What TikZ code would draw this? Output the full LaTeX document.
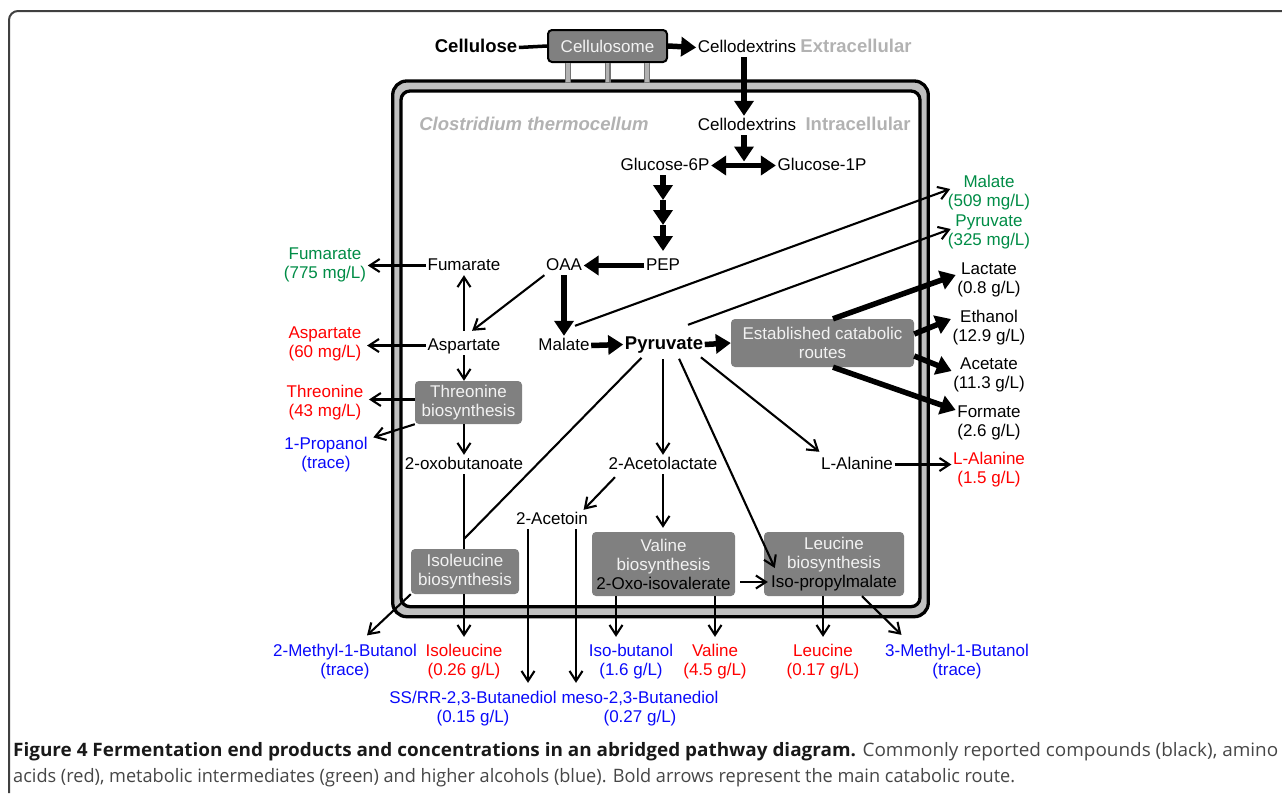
\documentclass[tikz,border=0pt]{standalone}
\usepackage{fontspec}
\setmainfont{Liberation Sans}
\newfontfamily\capfont{Open Sans}
\usetikzlibrary{arrows.meta}
\definecolor{cgreen}{RGB}{0,140,70}
\definecolor{cred}{RGB}{255,0,0}
\definecolor{cblue}{RGB}{10,10,250}
\definecolor{lblgray}{RGB}{178,178,178}
\definecolor{boxgray}{RGB}{128,128,128}
\definecolor{wallgray}{RGB}{192,192,192}
\definecolor{boxtext}{RGB}{242,242,242}
\definecolor{capgray}{RGB}{70,70,70}
\begin{document}
\begin{tikzpicture}[x=1pt,y=-1pt,
  every node/.style={font=\fontsize{17}{19}\selectfont},
  txt/.style={inner sep=1.5pt, text height=12.5pt, text depth=3.5pt},
  lab/.style={inner sep=1.5pt, align=center},
  bt/.style={txt, font=\fontsize{18.5}{21}\selectfont\bfseries},
  gl/.style={bt, text=lblgray},
  gbox/.style={fill=boxgray, rounded corners=4pt, text=boxtext, align=center, inner sep=0pt},
  thn/.style={line width=2.1pt, -{Straight Barb[length=10pt,width=13pt,line width=2.1pt]}},
  thk/.style={line width=5.5pt, -{Triangle[length=15pt,width=19pt]}},
  thkd/.style={line width=5.5pt, {Triangle[length=15pt,width=19pt]}-{Triangle[length=15pt,width=19pt]}},
  legline/.style={line width=6pt, black!55},
  legfill/.style={line width=3.6pt, black!30},
]
\useasboundingbox (0,0) rectangle (1282,793);
% outer frame
\draw[line width=2pt, black!75, rounded corners=9pt] (9,793) -- (9,11) -- (1282,11);
% cell wall
\draw[line width=3.3pt, fill=wallgray, rounded corners=14pt] (392.7,81) rectangle (928.3,616.7);
\draw[line width=3.3pt, fill=white, rounded corners=9pt] (401,91) rectangle (920,606.7);

% ---- nodes ----
\node[bt] (cellulose) at (476,47.5) {Cellulose};
\node[gbox, draw=black, line width=2pt, minimum width=119pt, minimum height=32pt] (cellulosome) at (607.5,46) {Cellulosome};
\node[txt] (cdx1) at (747,47.5) {Cellodextrins};
\node[gl] (extra) at (856,47.5) {Extracellular};
\node[gl, font=\fontsize{18.5}{21}\selectfont\bfseries\itshape] (clos) at (534,125.5) {Clostridium thermocellum};
\node[txt] (cdx2) at (747,125.5) {Cellodextrins};
\node[gl] (intra) at (858,125.5) {Intracellular};
\node[txt] (g6p) at (665,165.5) {Glucose-6P};
\node[txt] (g1p) at (822,165.5) {Glucose-1P};
\node[txt] (pep) at (663,265.5) {PEP};
\node[txt] (oaa) at (564,265.5) {OAA};
\node[txt] (fum) at (464,265.5) {Fumarate};
\node[txt] (asp) at (464,345.5) {Aspartate};
\node[txt] (mal) at (564,345.5) {Malate};
\node[bt] (pyr) at (664,344.5) {Pyruvate};
\node[gbox, minimum width=183pt, minimum height=48pt] (ecr) at (822.5,343) {Established catabolic\\routes};
\node[gbox, minimum width=107pt, minimum height=43pt] (thr) at (468.5,402.5) {Threonine\\biosynthesis};
\node[txt] (oxob) at (464,464.5) {2-oxobutanoate};
\node[txt] (acl) at (663,464.5) {2-Acetolactate};
\node[txt] (lala) at (857,464.5) {L-Alanine};
\node[txt] (acetoin) at (552,519.5) {2-Acetoin};
\node[gbox, minimum width=108pt, minimum height=45pt] (ile) at (465,571.5) {Isoleucine\\biosynthesis};
\node[gbox, minimum width=143pt, minimum height=64pt] (val) at (663.5,564) {Valine\\biosynthesis\\\textcolor{black}{2-Oxo-isovalerate}};
\node[gbox, minimum width=140pt, minimum height=64pt] (leu) at (834,564) {Leucine\\biosynthesis\\\textcolor{black}{Iso-propylmalate}};

% left labels
\node[lab, text=cgreen] (fumout) at (325,265) {Fumarate\\(775 mg/L)};
\node[lab, text=cred] (aspout) at (325,344) {Aspartate\\(60 mg/L)};
\node[lab, text=cred] (throut) at (325,403) {Threonine\\(43 mg/L)};
\node[lab, text=cblue] (prop) at (326,454.5) {1-Propanol\\(trace)};
% right labels
\node[lab, text=cgreen] (malout) at (989,192.5) {Malate\\(509 mg/L)};
\node[lab, text=cgreen] (pyrout) at (989,232) {Pyruvate\\(325 mg/L)};
\node[lab] (lac) at (989,280) {Lactate\\(0.8 g/L)};
\node[lab] (eth) at (989,328) {Ethanol\\(12.9 g/L)};
\node[lab] (ace) at (989,375) {Acetate\\(11.3 g/L)};
\node[lab] (form) at (989,423) {Formate\\(2.6 g/L)};
\node[lab, text=cred] (lalaout) at (989,470) {L-Alanine\\(1.5 g/L)};
% bottom labels
\node[lab, text=cblue] (mb2) at (345,661.5) {2-Methyl-1-Butanol\\(trace)};
\node[lab, text=cred] (ileout) at (464,661.5) {Isoleucine\\(0.26 g/L)};
\node[lab, text=cblue] (ibut) at (631,661.5) {Iso-butanol\\(1.6 g/L)};
\node[lab, text=cred] (valout) at (715,661.5) {Valine\\(4.5 g/L)};
\node[lab, text=cred] (leuout) at (823,661.5) {Leucine\\(0.17 g/L)};
\node[lab, text=cblue] (mb3) at (957,661.5) {3-Methyl-1-Butanol\\(trace)};
\node[lab, text=cblue] (ssrr) at (473,709) {SS/RR-2,3-Butanediol\\(0.15 g/L)};
\node[lab, text=cblue] (meso) at (640,709) {meso-2,3-Butanediol\\(0.27 g/L)};

% helper coordinates
\coordinate (jn) at (744,161.5);
\coordinate (h1) at (663,200);
\coordinate (h2) at (663,225);
\coordinate (h3) at (663,251);
\coordinate (ilej) at (464,539);
\coordinate (bd1) at ([xshift=-24pt]acetoin.south);
\coordinate (bd2) at ([xshift=24pt]acetoin.south);
\coordinate (v1) at ([xshift=-47.5pt]val.south);

% ---- cellulosome legs ----
\foreach \dx in {-39.5,0,39.5} {
  \draw[legline] ([xshift=\dx pt]cellulosome.south) -- ++(0,20);
  \draw[legfill] ([xshift=\dx pt]cellulosome.south) -- ++(0,19);
}

% ---- thick (main route) ----
\draw[line width=3.5pt] (cellulose.east) -- (cellulosome.west);
\draw[thk] (cellulosome.east) -- (cdx1.west);
\draw[thk] ([xshift=-3pt]cdx1.south) -- ([xshift=-3pt]cdx2.north);
\draw[thk] ([xshift=-3pt]cdx2.south) -- (jn);
\draw[thkd] (g6p.east) -- (g1p.west);
\draw[thk] (g6p.south -| h1) -- (h1);
\draw[thk] (h1) -- (h2);
\draw[thk] (h2) -- (h3);
\draw[thk] (pep.west) -- (oaa.east);
\draw[thk] (oaa.south) -- (mal.north);
\draw[thk] (mal.east) -- (pyr.west);
\draw[thk] (pyr.east) -- (ecr.west);
\draw[thk] ([xshift=10.5pt]ecr.north) -- ([yshift=5pt]lac.west);
\draw[thk] ([yshift=9pt]ecr.east) -- ([yshift=9pt]eth.west);
\draw[thk] ([yshift=-13pt]ecr.east) -- ([yshift=4pt]ace.west);
\draw[thk] ([xshift=10.5pt]ecr.south) -- ([yshift=13pt]form.west);

% ---- thin ----
\draw[thn] ([xshift=11pt,yshift=10pt]mal.north) -- ([xshift=4pt,yshift=3.5pt]malout.west);
\draw[thn] ([xshift=24pt,yshift=10pt]pyr.north) -- ([xshift=4.5pt,yshift=3pt]pyrout.west);
\draw[thn] (fum.west) -- (fum.west -| fumout.east);
\draw[thn, shorten <=5pt] (asp.north) -- (fum.south);
\draw[thn] (oaa.south west) -- ([xshift=-30pt,yshift=5pt]asp.north east);
\draw[thn, shorten >=4pt] (asp.west) -- (asp.west -| aspout.east);
\draw[thn] (asp.south) -- (asp.south |- thr.north);
\draw[thn, shorten >=4pt] ([yshift=3pt]thr.west) -- ([yshift=3pt]thr.west -| throut.east);
\draw[thn] (thr.south west) -- ([xshift=4pt,yshift=-2pt]prop.north east);
\draw[thn] (thr.south -| oxob) -- (oxob.north);
\draw[line width=2.1pt] (oxob.south) -- (oxob.south |- ile.north);
\draw[line width=2.1pt, shorten <=5pt] ([xshift=-19pt]pyr.south) -- (ilej);
\draw[thn] (ile.south west) -- ([xshift=22pt,yshift=7pt]mb2.north);
\draw[thn, shorten >=5.5pt] (ileout.north |- ile.south) -- (ileout.north);
\draw[thn, shorten <=5pt] (pyr.south -| acl) -- (acl.north);
\draw[thn] ([xshift=8pt,yshift=-3pt]acl.south west) -- ([xshift=-6pt]acetoin.north east);
\draw[thn, shorten >=4pt] (acl.south) -- (acl.south |- val.north);
\draw[thn, shorten >=7pt] (bd1) -- (bd1 |- ssrr.north);
\draw[thn, shorten >=7pt] (bd2) -- (bd2 |- meso.north);
\draw[thn, shorten >=5.5pt] (v1) -- (v1 |- ibut.north);
\draw[thn, shorten >=5.5pt] (valout.north |- val.south) -- (valout.north);
\draw[thn, shorten <=5pt] ([yshift=-18pt]val.east) -- ([xshift=4pt,yshift=-18pt]leu.west);
\draw[thn, shorten <=5pt] ([xshift=13pt]pyr.south) -- ([xshift=11pt,yshift=-4pt]leu.west);
\draw[thn, shorten <=5pt] ([xshift=33pt]pyr.south) -- ([yshift=3pt]lala.north west);
\draw[thn] (lala.east) -- (lala.east -| lalaout.west);
\draw[thn, shorten >=5.5pt] (leuout.north |- leu.south) -- (leuout.north);
\draw[thn] ([xshift=28pt]leu.south) -- ([xshift=18pt,yshift=7.5pt]mb3.north west);

% ---- caption ----
\node[anchor=base west, inner sep=0pt] (cap1) at (13,756) {\resizebox{1265pt}{\height}{\capfont\fontsize{18.5}{22}\selectfont\textbf{\color{black!90}Figure 4 Fermentation end products and concentrations in an abridged pathway diagram.} {\color{capgray}Commonly reported compounds (black), amino}}};
\node[anchor=base west, inner sep=0pt] (cap2) at (13,782) {\resizebox{1002pt}{\height}{\capfont\fontsize{18.5}{22}\selectfont\color{capgray}acids (red), metabolic intermediates (green) and higher alcohols (blue). Bold arrows represent the main catabolic route.}};
\end{tikzpicture}
\end{document}
